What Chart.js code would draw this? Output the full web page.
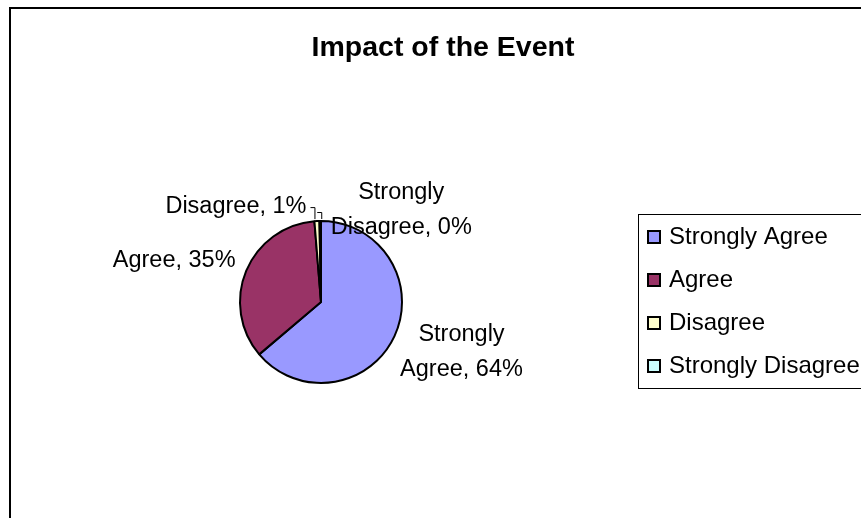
<!DOCTYPE html>
<html>
<head>
<meta charset="utf-8">
<script src="https://cdn.jsdelivr.net/npm/chart.js@4.4.0/dist/chart.umd.min.js"></script>
<style>
html, body { margin: 0; padding: 0; background: #fff; overflow: hidden; }
canvas { display: block; }
</style>
</head>
<body>
<canvas id="myChart" width="861" height="518"></canvas>
<script>
const ctx = document.getElementById('myChart');

const title = 'Impact of the Event'
const labels = ['Strongly Agree', 'Agree', 'Disagree', 'Strongly Disagree']
const values = [64, 35, 1, 0.3]
const colors = ['#9999FF', '#993366', '#FFFFCC', '#CCFFFF']
// Excel wrapped some data labels onto two lines
const wrapLabel = [true, false, false, true]

const FONT = "'Liberation Sans', Arial, sans-serif"

// nudges of each data label from the edge point of its slice
const labelNudge = [[67, 16], [-72, -10], [-81, -15], [81, -11]]
// slices that got a small leader line
const leader = [false, false, true, true]

const total = values.reduce((a, b) => a + b, 0)

const excelLook = {
    id: 'excelLook',
    beforeDraw(chart) {
        const c = chart.ctx
        c.save()
        c.fillStyle = '#fff'
        c.fillRect(0, 0, chart.width, chart.height)
        // chart frame, cut at right and bottom
        c.strokeStyle = '#000'
        c.lineWidth = 2
        c.strokeRect(10, 8, chart.width + 20, chart.height + 20)
        c.restore()
    },
    afterDraw(chart) {
        const c = chart.ctx
        c.save()

        // title
        c.fillStyle = '#000'
        c.font = `bold 28.5px ${FONT}`
        c.textAlign = 'center'
        c.textBaseline = 'middle'
        c.fillText(title, 443, 48)

        // data labels
        const arcs = chart.getDatasetMeta(0).data
        c.font = `23.5px ${FONT}`
        arcs.forEach((arc, i) => {
            const {x, y, startAngle, endAngle, outerRadius} = arc.getProps(['x', 'y', 'startAngle', 'endAngle', 'outerRadius'], true)
            const mid = (startAngle + endAngle) / 2
            const ex = x + Math.cos(mid) * outerRadius
            const ey = y + Math.sin(mid) * outerRadius
            const pct = Math.round(values[i] / total * 100)
            let text = `${labels[i]}, ${pct}%`
            let lines = [text]
            if (wrapLabel[i]) {
                const k = text.indexOf(' ')
                lines = [text.slice(0, k), text.slice(k + 1)]
            }
            const lx = ex + labelNudge[i][0]
            const ly = ey + labelNudge[i][1]
            const lh = 34.5
            lines.forEach((ln, j) => {
                c.fillText(ln, lx, ly + (j - (lines.length - 1) / 2) * lh)
            })
            if (leader[i]) {
                c.strokeStyle = '#000'
                c.lineWidth = 1
                c.beginPath()
                if (i === 2) {
                    const w = c.measureText(lines[0]).width
                    const sx = lx + w / 2 + 4
                    c.moveTo(sx, ly + 1.5)
                    c.lineTo(ex - 2, ly + 1.5)
                    c.lineTo(ex - 2, ey - 2)
                } else {
                    c.moveTo(ex - 3, ly + 2.5)
                    c.lineTo(ex + 1.5, ly + 2.5)
                    c.lineTo(ex + 1.5, ey - 2)
                }
                c.stroke()
            }
        })

        // legend
        c.strokeStyle = '#000'
        c.lineWidth = 1
        c.strokeRect(638.5, 214.5, 260, 174)
        c.font = `24px ${FONT}`
        c.textAlign = 'left'
        labels.forEach((lab, i) => {
            const ry = 237 + i * 43
            c.fillStyle = colors[i]
            c.fillRect(648, ry - 6, 12, 12)
            c.strokeStyle = '#000'
            c.lineWidth = 2
            c.strokeRect(648, ry - 6, 12, 12)
            c.fillStyle = '#000'
            c.fillText(lab, 669, ry)
        })
        c.restore()
    }
}

new Chart(ctx, {
    type: 'pie',
    data: {
        labels: labels,
        datasets: [{
            data: values,
            backgroundColor: colors,
            borderColor: '#000',
            borderWidth: 2,
            borderAlign: 'center'
        }]
    },
    options: {
        responsive: false,
        animation: false,
        devicePixelRatio: 1,
        layout: {
            padding: { left: 239, right: 458, top: 220, bottom: 134 }
        },
        plugins: {
            legend: { display: false },
            title: { display: false },
            tooltip: { enabled: false }
        }
    },
    plugins: [excelLook]
});
</script>
</body>
</html>
